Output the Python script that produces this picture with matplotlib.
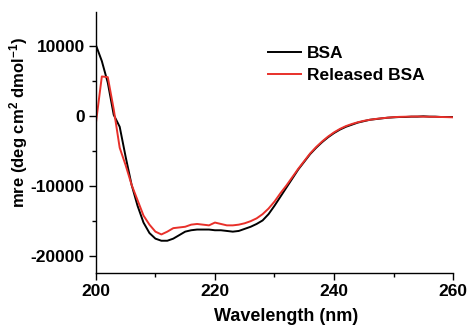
import matplotlib
matplotlib.use("Agg")
import matplotlib.pyplot as plt
from matplotlib.ticker import MultipleLocator

plt.rcParams['font.family'] = ['Liberation Sans', 'DejaVu Sans']
plt.rcParams['font.weight'] = 'bold'
plt.rcParams['axes.unicode_minus'] = False
plt.rcParams['mathtext.fontset'] = 'custom'
plt.rcParams['mathtext.bf'] = 'Liberation Sans:bold'
plt.rcParams['mathtext.rm'] = 'Liberation Sans:bold'
plt.rcParams['mathtext.default'] = 'bf'

wavelength = list(range(200, 261))
bsa = [10200, 7900, 4800, 200, -1500, -5800, -9800, -12800, -15200, -16700,
       -17500, -17800, -17800, -17500, -17000, -16500, -16300, -16200, -16200, -16200,
       -16300, -16300, -16400, -16500, -16400, -16100, -15800, -15400, -14900, -14000,
       -12800, -11500, -10200, -8900, -7600, -6500, -5400, -4500, -3700, -3000,
       -2400, -1900, -1500, -1200, -900, -700, -500, -400, -300, -200,
       -150, -100, -100, -50, -50, 0, -50, -50, -100, -100, -100]
released = [-1000, 5700, 5600, 1000, -4500, -7000, -9800, -12000, -14200, -15500,
            -16500, -16900, -16500, -16000, -15900, -15800, -15500, -15400, -15500, -15600,
            -15200, -15400, -15600, -15600, -15500, -15300, -15000, -14600, -14000, -13200,
            -12200, -11000, -9900, -8700, -7500, -6400, -5300, -4400, -3600, -2900,
            -2300, -1800, -1400, -1100, -850, -650, -500, -380, -280, -200,
            -120, -80, -60, -40, -30, -50, -60, -80, -100, -120, -150]

fs = 12.5
fig = plt.figure(figsize=(4.7, 3.28), dpi=100)
ax = fig.add_axes([0.204, 0.168, 0.76, 0.795])
ax.plot(wavelength, bsa, color='black', lw=1.4, label='BSA')
ax.plot(wavelength, released, color='#e8302a', lw=1.4, label='Released BSA')

ax.set_xlim(200, 260)
ax.set_ylim(-22400, 14900)
ax.xaxis.set_major_locator(MultipleLocator(20))
ax.xaxis.set_minor_locator(MultipleLocator(10))
ax.yaxis.set_major_locator(MultipleLocator(10000))
ax.yaxis.set_minor_locator(MultipleLocator(5000))
for s in ['top', 'right']:
    ax.spines[s].set_visible(False)
for s in ['left', 'bottom']:
    ax.spines[s].set_linewidth(1.0)
ax.tick_params(which='major', direction='out', length=5, width=1.0, labelsize=fs, pad=3)
ax.tick_params(which='minor', direction='out', length=3, width=1.0)
for lab in ax.get_xticklabels() + ax.get_yticklabels():
    lab.set_fontweight('bold')
ax.set_xlabel('Wavelength (nm)', fontsize=13, fontweight='bold')
ax.set_ylabel('mre (deg cm$^{2}$ dmol$^{-1}$)', fontsize=12, fontweight='bold')
ax.xaxis.set_label_coords(0.532, -0.134)
ax.yaxis.set_label_coords(-0.185, 0.575)
ax.legend(loc='upper left', bbox_to_anchor=(0.483, 0.87), frameon=False,
          borderpad=0, borderaxespad=0,
          handlelength=1.85, handletextpad=0.35, labelspacing=0.36,
          prop={'weight': 'bold', 'size': fs})
fig.savefig('out.png', dpi=100)
